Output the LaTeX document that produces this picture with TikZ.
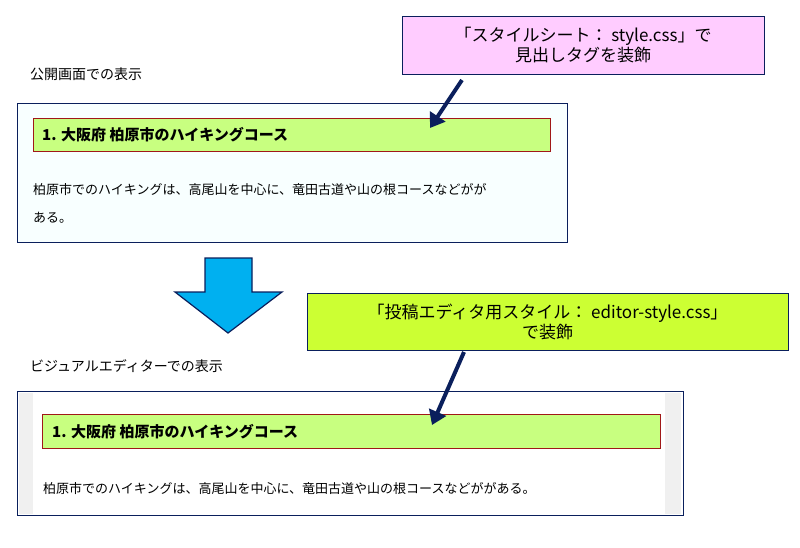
\documentclass[tikz,border=0pt]{standalone}
\usepackage{fontspec}
\setmainfont{Noto Sans CJK JP}
\usetikzlibrary{arrows.meta}
\definecolor{navy}{HTML}{0A1F5C}
\definecolor{hbar}{HTML}{C8FF80}
\definecolor{hred}{HTML}{A01818}
\tikzset{
  lbl/.style={anchor=west,inner sep=0pt,font=\fontsize{14}{16}\selectfont},
  hd/.style={draw=hred,fill=hbar,line width=0.8pt},
  hdt/.style={anchor=west,inner sep=0pt,font=\fontsize{15}{17}\selectfont\bfseries},
  bt/.style={anchor=west,inner sep=0pt,font=\fontsize{13}{15}\selectfont},
  call/.style={draw=navy,line width=1pt,align=center,font=\fontsize{17}{20}\selectfont},
  pt/.style={draw=navy,line width=4pt,-{Triangle[length=14pt,width=18pt]}}
}
\begin{document}
\begin{tikzpicture}[x=1pt,y=-1pt]
\useasboundingbox (0,0) rectangle (800,547);
\node[lbl] (l1) at (30,74) {公開画面での表示};
\draw[navy,fill={rgb,255:red,248;green,255;blue,255},line width=1pt] (17,103) rectangle (567,242);
\draw[hd] (33,118) rectangle (550,151);
\node[hdt] (h1) at (42,135) {1. 大阪府 柏原市のハイキングコース};
\node[bt] (b1) at (33,190) {柏原市でのハイキングは、高尾山を中心に、竜田古道や山の根コースなどがが};
\node[bt] (b2) at (33,218) {ある。};
\node[call,fill={rgb,255:red,255;green,204;blue,255},minimum width=362pt,minimum height=58pt,inner sep=2pt] (c1) at (583,45) {「スタイルシート： style.css」で\\見出しタグを装飾};
\coordinate (t1) at (430,128);
\draw[pt] (462,80) -- (t1);
\draw[navy,fill={rgb,255:red,0;green,176;blue,240},line width=1.2pt,line join=miter]
  (205,258) -- (252,258) -- (252,292) -- (282,292) -- (228,333) -- (175,292) -- (205,292) -- cycle;
\node[call,fill={rgb,255:red,204;green,255;blue,51},minimum width=481pt,minimum height=57pt,inner sep=2pt] (c2) at (547.5,321.5) {「投稿エディタ用スタイル： editor-style.css」\\で装飾};
\node[lbl] (l2) at (30,366) {ビジュアルエディターでの表示};
\fill[white] (17,391) rectangle (683,515);
\fill[gray!12] (19,393) rectangle (33,514);
\fill[gray!12] (665,393) rectangle (681,514);
\draw[navy,line width=1pt] (17,391) rectangle (683,515);
\draw[hd] (42,414) rectangle (660,448);
\node[hdt] (h2) at (52,432) {1. 大阪府 柏原市のハイキングコース};
\node[bt] (b3) at (43,489) {柏原市でのハイキングは、高尾山を中心に、竜田古道や山の根コースなどががある。};
\coordinate (t2) at (432,425);
\draw[pt] (464,352) -- (t2);
\end{tikzpicture}
\end{document}
